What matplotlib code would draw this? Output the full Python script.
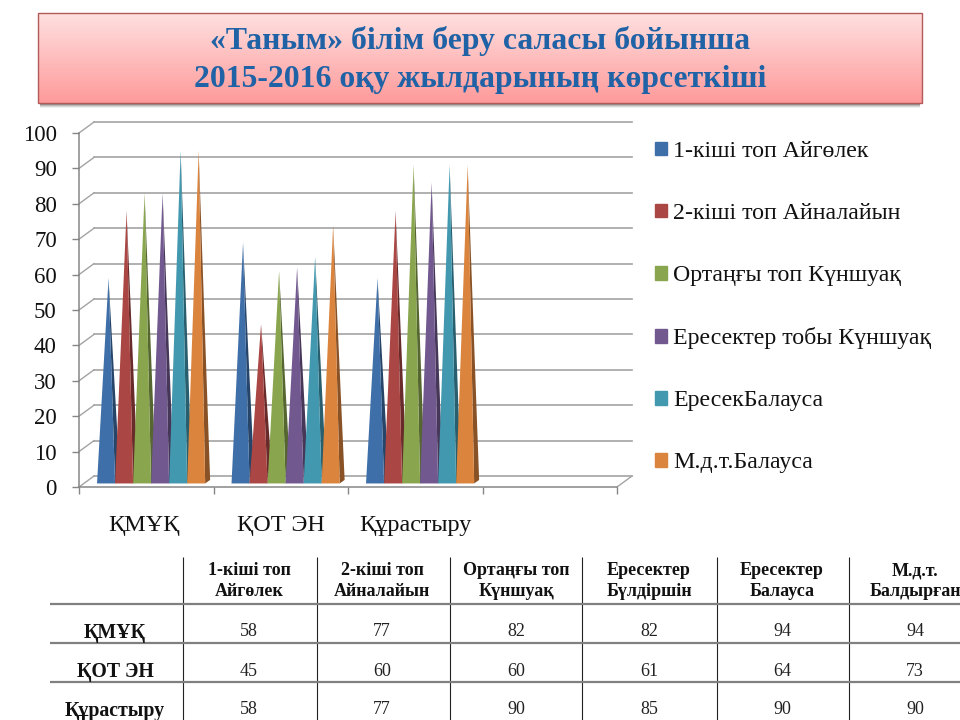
import numpy as np
import matplotlib
matplotlib.use("Agg")
import matplotlib.pyplot as plt
from matplotlib.patches import Polygon, Patch, Rectangle

plt.rcParams['font.family'] = ['Liberation Serif', 'DejaVu Serif']

title_lines = ["«Таным» білім беру саласы бойынша", "2015-2016 оқу жылдарының көрсеткіші"]

categories = ["ҚМҰҚ", "ҚОТ ЭН", "Құрастыру", ""]
series_names = ["1-кіші топ Айгөлек", "2-кіші топ Айналайын", "Ортаңғы топ Күншуақ",
                "Ересектер тобы Күншуақ", "ЕресекБалауса", "М.д.т.Балауса"]
colors = ["#3f6fa9", "#aa4643", "#89a54e", "#71588f", "#4198af", "#db843d"]

# one list per category, the 4th category of the chart is empty
kmuk = [58, 77, 82, 82, 94, 94]
kot_en = [68, 45, 60, 61, 64, 73]
kurastyru = [58, 77, 90, 85, 90, 90]
yticks = [0, 10, 20, 30, 40, 50, 60, 70, 80, 90, 100]

table_header = ["1-кіші топ\nАйгөлек", "2-кіші топ\nАйналайын", "Ортаңғы топ\nКүншуақ",
                "Ересектер\nБүлдіршін", "Ересектер\nБалауса", "М.д.т.\nБалдырған"]
table_rows = ["ҚМҰҚ", "ҚОТ ЭН", "Құрастыру"]
table_kmuk = [58, 77, 82, 82, 94, 94]
table_kot_en = [45, 60, 60, 61, 64, 73]
table_kurastyru = [58, 77, 90, 85, 90, 90]

fig = plt.figure(figsize=(9.6, 7.2), dpi=100)

# page layer in pixels: title box and table
bg = fig.add_axes([0, 0, 1, 1])
bg.axis("off")

#### title box
for grow, alpha in zip([5, 4, 3, 2, 1], [0.06, 0.1, 0.14, 0.2, 0.3]):
    bg.add_patch(Rectangle((40, 100), 880, 3 + grow, color="black", alpha=alpha, lw=0))
grad = np.ones((100, 1, 3))
top = np.array([254, 224, 224]) / 255
bottom = np.array([255, 154, 154]) / 255
for i in range(100):
    grad[i, 0] = top + (bottom - top)*i/99
bg.imshow(grad, extent=(38, 922, 103, 13), aspect="auto", zorder=2)
bg.set_xlim(0, 960)
bg.set_ylim(720, 0)
bg.add_patch(Rectangle((38, 13), 884, 90, fill=False, ec="#b25a58", lw=1, zorder=3))
bg.text(480, 41, title_lines[0], ha="center", va="center", fontsize=22.9, fontweight="bold", color="#1f62a5", zorder=4)
bg.text(480, 79, title_lines[1], ha="center", va="center", fontsize=22.9, fontweight="bold", color="#1f62a5", zorder=4)

#### table
col_edges = [182.5, 316.5, 449.5, 582, 716.5, 849]
col_centers = [249, 382, 516, 649, 782, 915]
row_lines = [604, 643, 682]
row_y = [632, 671, 710]
for x in col_edges:
    bg.plot([x, x], [557, 720], color="#222222", lw=0.8, solid_capstyle="butt")
for y in row_lines:
    bg.plot([50, 960], [y, y], color="#808080", lw=1.6, solid_capstyle="butt")
for x, head in zip(col_centers, table_header):
    bg.text(x, 581, head, ha="center", va="center", fontsize=13, fontweight="bold", linespacing=1.3, color="#111111")
for y, name, vals in zip(row_y, table_rows, [table_kmuk, table_kot_en, table_kurastyru]):
    bg.text(115, y + 1, name, ha="center", va="center", fontsize=14.3, fontweight="bold", color="#111111")
    for x, v in zip(col_centers, vals):
        bg.text(x, y, str(v), ha="center", va="center", fontsize=13, color="#222222")

#### chart, value axis runs from pixel 487 up to 133
ax = fig.add_axes([79/960, 1 - 487/720, 538/960, 354/720], facecolor="none")
ax.set_xlim(0, 4)
ax.set_ylim(0, 100)

wall_dx = 0.1115
wall_dy = 3.1
grid_color = "#a3a3a3"
axis_color = "#868686"

for y in yticks:
    ax.plot([wall_dx, 4 + wall_dx], [y + wall_dy, y + wall_dy], color=grid_color, lw=1.2, clip_on=False, zorder=1)
    ax.plot([0, wall_dx], [y, y + wall_dy], color=grid_color, lw=1, clip_on=False, zorder=1)
ax.plot([4, 4 + wall_dx], [0, wall_dy], color=grid_color, lw=1, clip_on=False, zorder=1)

bar_w = 0.134
first = 0.134
depth_x = 0.037
depth_y = 1.0
lift = 1.0


def darker(c, f=0.62):
    return tuple(np.array(matplotlib.colors.to_rgb(c))*f)


for i, vals in enumerate([kmuk, kot_en, kurastyru]):
    for j, v in enumerate(vals):
        x0 = i + first + j*bar_w
        x1 = x0 + bar_w
        apex = (x0 + bar_w/2 + depth_x/2, v + lift)
        ax.add_patch(Polygon([(x1, lift), (x1 + depth_x, lift + depth_y), apex], color=darker(colors[j]), lw=0, clip_on=False, zorder=2 + j))
        ax.add_patch(Polygon([(x0, lift), (x1, lift), apex], color=colors[j], lw=0, clip_on=False, zorder=2 + j))

for s in ["top", "right"]:
    ax.spines[s].set_visible(False)
for s in ["left", "bottom"]:
    ax.spines[s].set_color(axis_color)
    ax.spines[s].set_linewidth(1.1)
ax.set_yticks(yticks)
ax.set_xticks([0, 1, 2, 3, 4])
ax.set_xticklabels([])
ax.set_xticks([0.48, 1.5, 2.5, 3.5], minor=True)
ax.set_xticklabels(categories, minor=True)
ax.tick_params(axis="x", which="major", length=5, color=axis_color, width=1)
ax.tick_params(axis="x", which="minor", length=0, pad=20, labelsize=17.4, labelcolor="#111111")
ax.tick_params(axis="y", length=5, color=axis_color, width=1, pad=11, labelsize=16.5, labelcolor="#111111")

handles = [Patch(color=c, label=n) for c, n in zip(colors, series_names)]
ax.legend(handles=handles, loc="upper left", bbox_to_anchor=(655/960, 1 - 141/720), bbox_transform=fig.transFigure,
          frameon=False, fontsize=17.2, handlelength=0.5, handleheight=0.5, handletextpad=0.25, labelspacing=1.72,
          borderpad=0, borderaxespad=0, labelcolor="#111111")

fig.savefig("out.png", dpi=100)
